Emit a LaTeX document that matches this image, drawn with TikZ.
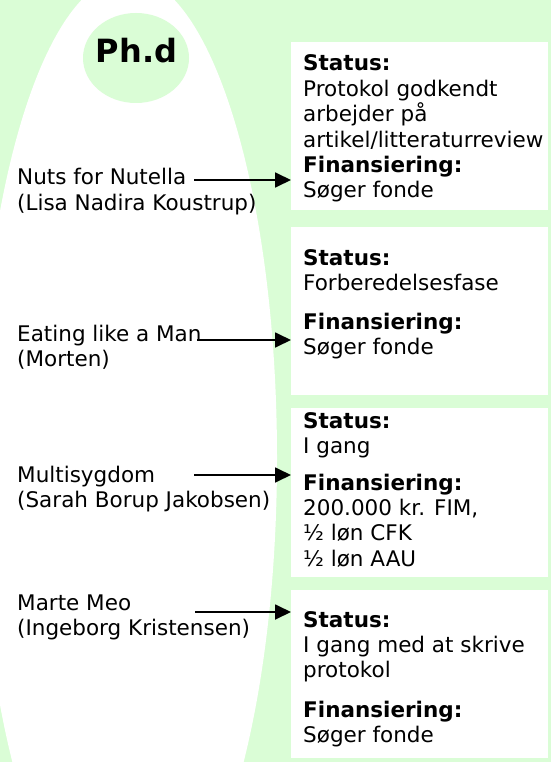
\documentclass[tikz,border=0pt]{standalone}
\usepackage{fontspec}
\setmainfont{DejaVu Sans}
\usetikzlibrary{arrows.meta,shapes.geometric}
\definecolor{bggreen}{RGB}{218,253,214}
\newcommand\Lines[1]{\vtop{\baselineskip=25.4pt\lineskiplimit=-30pt\lineskip=0pt #1}}
\begin{document}
\begin{tikzpicture}[x=1pt,y=-1pt,
  txt/.style={inner sep=0pt, anchor=base west, font=\fontsize{21.5}{25.4}\selectfont},
  infobox/.style={fill=white, inner sep=0pt, anchor=north west, minimum width=257pt},
  arr/.style={line width=1.8pt, -{Triangle[length=16pt,width=15pt]}}]
\fill[bggreen] (0,0) rectangle (551,762);
\useasboundingbox (0,0) rectangle (551,762);
\begin{scope}
\clip (0,0) rectangle (551,762);
\fill[white] (128,458) ellipse [x radius=149pt, y radius=482pt];
\end{scope}
% Ph.d circle
\node[ellipse, fill=bggreen, minimum width=106pt, minimum height=90pt, inner sep=0pt] (phd) at (136,58) {};
\node[font=\bfseries\fontsize{32}{36}\selectfont, inner sep=0pt, anchor=base] (phdt) at (136.5,63) {Ph.d};
% boxes
\node[infobox, minimum height=168pt] (b1) at (291,42) {};
\node[infobox, minimum height=168pt] (b2) at (291,227) {};
\node[infobox, minimum height=169pt] (b3) at (291,408) {};
\node[infobox, minimum height=168pt] (b4) at (291,590) {};
% box texts
\node[txt] (t1) at (303,71) {\Lines{\hbox{\textbf{Status:}}\hbox{Protokol godkendt}\hbox{arbejder på}\hbox{artikel/litteraturreview}\hbox{\textbf{Finansiering:}}\hbox{Søger fonde}}};
\node[txt] (t2) at (303,265) {\Lines{\hbox{\textbf{Status:}}\hbox{Forberedelsesfase}\vskip13.2pt\hbox{\textbf{Finansiering:}}\hbox{Søger fonde}}};
\node[txt] (t3) at (303,428) {\Lines{\hbox{\textbf{Status:}}\hbox{I gang}\vskip11.2pt\hbox{\textbf{Finansiering:}}\hbox{200.000 kr. FIM,}\hbox{½ løn CFK}\hbox{½ løn AAU}}};
\node[txt] (t4) at (303,627) {\Lines{\hbox{\textbf{Status:}}\hbox{I gang med at skrive}\hbox{protokol}\vskip13.8pt\hbox{\textbf{Finansiering:}}\hbox{Søger fonde}}};
% left labels
\node[txt] (l1) at (17,185) {\Lines{\hbox{Nuts for Nutella}\hbox{(Lisa Nadira Koustrup)}}};
\node[txt] (l2) at (17,341) {\Lines{\hbox{Eating like a Man}\hbox{(Morten)}}};
\node[txt] (l3) at (17,482) {\Lines{\hbox{Multisygdom}\hbox{(Sarah Borup Jakobsen)}}};
\node[txt] (l4) at (17,610) {\Lines{\hbox{Marte Meo}\hbox{(Ingeborg Kristensen)}}};
% arrows
\coordinate (s1) at (194,180);
\coordinate (s2) at (197,340);
\coordinate (s3) at (194,475);
\coordinate (s4) at (195,612);
\draw[arr] (s1) -- (s1 -| b1.west);
\draw[arr] (s2) -- (s2 -| b2.west);
\draw[arr] (s3) -- (s3 -| b3.west);
\draw[arr] (s4) -- (s4 -| b4.west);
\end{tikzpicture}
\end{document}
